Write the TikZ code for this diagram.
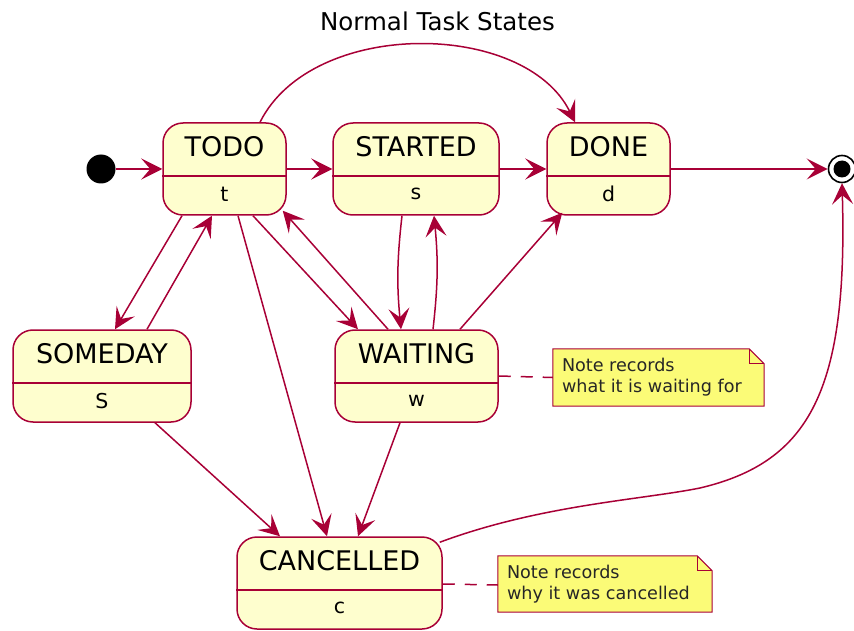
\documentclass[tikz,border=0pt]{standalone}
\usepackage{fontspec}
\setmainfont{DejaVu Sans}
\usetikzlibrary{arrows.meta,calc}
\definecolor{pumlred}{HTML}{A80036}
\definecolor{pumlfill}{HTML}{FEFECE}
\definecolor{notefill}{HTML}{FBFB77}
\newcommand\mystate[6]{%
  \node[stbox, minimum width=#4pt] (#1) at (#2,#3) {};
  \node[sttitle] (#1-t) at ([yshift=22pt]#1.center) {#5};
  \node[stbody] (#1-b) at ([yshift=-25pt]#1.center) {#6};
  \draw[stline] ([yshift=-7pt]#1.west) -- ([yshift=-7pt]#1.east);}
\newcommand\mynote[6]{%
  \node[notebox, minimum width=#4pt, minimum height=#5pt] (#1) at (#2,#3) {};
  \path[notedraw] (#1.north west) -- ([xshift=-15pt]#1.north east) -- ([yshift=-15pt]#1.north east) -- (#1.south east) -- (#1.south west) -- cycle;
  \draw[notefold] ([xshift=-15pt]#1.north east) |- ([yshift=-15pt]#1.north east);
  \node[notetext, anchor=west] (#1-t) at ([xshift=9pt]#1.west) {#6};}
\begin{document}
\begin{tikzpicture}[x=1pt,y=-1pt,
  stbox/.style={draw=pumlred, fill=pumlfill, line width=1.5pt, rounded corners=20pt, minimum height=92pt, inner sep=0pt},
  stline/.style={draw=pumlred, line width=1.5pt},
  sttitle/.style={font=\fontsize{27}{32}\selectfont, inner sep=0pt},
  stbody/.style={font=\fontsize{20.5}{24}\selectfont, inner sep=0pt},
  arr/.style={draw=pumlred, line width=1.5pt, -{Stealth[length=21pt,width=21pt,inset=9pt]}},
  notebox/.style={inner sep=0pt, draw=none},
  notedraw/.style={draw=pumlred, fill=notefill, line width=1pt},
  notefold/.style={draw=pumlred, line width=1pt},
  notetext/.style={font=\fontsize{17.6}{21}\selectfont, align=left, inner sep=0pt, text=black!85},
  notelink/.style={draw=pumlred, line width=1.5pt, dash pattern=on 12pt off 10pt},
  startdot/.style={circle, fill=black, minimum size=29pt, inner sep=0pt},
  enddot/.style={circle, draw=black, fill=white, line width=1.6pt, minimum size=27pt, inner sep=0pt}
]
\useasboundingbox (0,0) rectangle (854,631);
\node[font=\fontsize{24.5}{28}\selectfont] (title) at (437.5,21) {Normal Task States};

\node[startdot] (start) at (101,169) {};
\node[enddot] (end) at (842,169) {};
\fill (end.center) circle (8.5pt);

\mystate{todo}{224.5}{169}{123}{TODO}{t}
\mystate{started}{416}{169}{166}{STARTED}{s}
\mystate{done}{608.5}{169}{123}{DONE}{d}
\mystate{someday}{102}{376}{178}{SOMEDAY}{S}
\mystate{waiting}{416.5}{376}{163}{WAITING}{w}
\mystate{cancelled}{339.5}{583}{205}{CANCELLED}{c}

\mynote{n1}{658.5}{377.5}{211}{57}{Note records\\what it is waiting for}
\mynote{n2}{605}{584}{214}{56}{Note records\\why it was cancelled}

\draw[notelink] (waiting.east) -- (n1.west);
\draw[notelink] ([yshift=-1pt]cancelled.east) -- ([yshift=-1pt]n2.west);

\draw[arr] (start) -- (todo);
\draw[arr] (todo.east) -- (started.west);
\draw[arr] (started.east) -- (done.west);
\draw[arr] (done.east) -- (end.west);
\draw[arr] ([xshift=35.5pt]todo.north) .. controls (312,18) and (525,20) .. ([xshift=-33.5pt]done.north);

\draw[arr] ([xshift=-42.5pt]todo.south) -- ([xshift=13pt]someday.north);
\draw[arr] ([xshift=45pt]someday.north) -- ([xshift=-12.5pt]todo.south);
\draw[arr] ([xshift=13.5pt]todo.south) -- ([xshift=-12.5pt]cancelled.north);
\draw[arr] ([xshift=28.5pt]todo.south) -- ([xshift=-58.5pt]waiting.north);
\draw[arr] ([xshift=-28.5pt]waiting.north) -- ([xshift=-4pt,yshift=5pt]todo.south east);
\draw[arr] ([xshift=-14pt]started.south) to[bend right=6] ([xshift=-15.5pt]waiting.north);
\draw[arr] ([xshift=16.5pt]waiting.north) to[bend right=6] ([xshift=18pt]started.south);
\draw[arr] ([xshift=43.5pt]waiting.north) -- ([xshift=16pt,yshift=3pt]done.south west);
\draw[arr] ([xshift=53pt]someday.south) -- ([xshift=-59.5pt]cancelled.north);
\draw[arr] ([xshift=-16.5pt]waiting.south) -- ([xshift=18.5pt]cancelled.north);
\draw[arr] ([xshift=-3pt,yshift=-6pt]cancelled.north east) .. controls (540,505) and (640,500) .. (700,488) .. controls (810,462) and (848,390) .. (end.south);
\end{tikzpicture}
\end{document}
